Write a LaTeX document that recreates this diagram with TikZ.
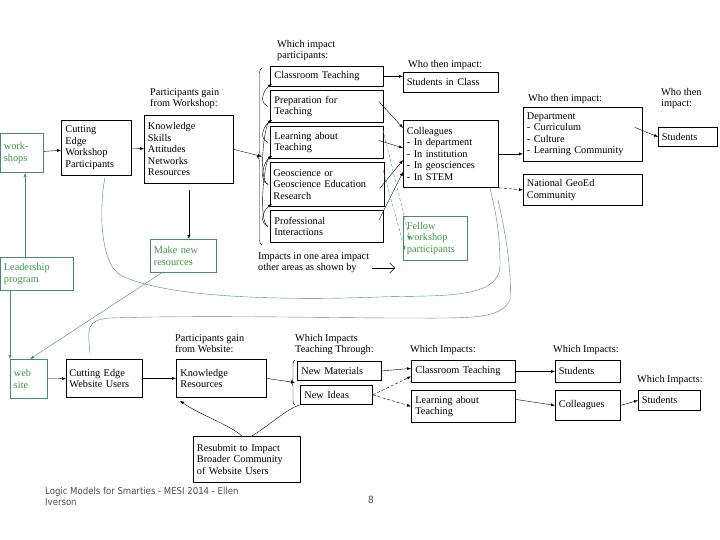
\documentclass[tikz,border=0pt]{standalone}
\usepackage{fontspec}
\setmainfont{Liberation Serif}
\newfontfamily\foot{DejaVu Sans Condensed}
\usetikzlibrary{arrows.meta,decorations.pathreplacing}
\definecolor{gr}{RGB}{60,150,60}
\definecolor{gl}{RGB}{70,140,110}
\begin{document}
\begin{tikzpicture}[x=1pt,y=-1pt,
 bx/.style={draw,thick,anchor=north west,inner sep=3pt,align=left,font=\fontsize{10.3}{11.5}\selectfont},
 gbx/.style={bx,draw=gl,text=gr},
 lb/.style={anchor=north west,inner sep=0pt,align=left,font=\fontsize{10.3}{11.5}\selectfont},
 ar/.style={-{Latex[length=4pt,width=3pt]}},
 ga/.style={gl,-{Latex[length=4pt,width=3pt]}}]
\useasboundingbox (0,0) rectangle (720,540);
% top row
\node[gbx,minimum width=43,minimum height=39,text width=36] (ws) at (0,133) {work-\\shops};
\node[bx,minimum width=70,minimum height=55,text width=62] (cew) at (61,120) {Cutting\\Edge\\Workshop\\Participants};
\node[lb] (l1) at (150,88) {Participants gain\\from Workshop:};
\node[bx,minimum width=89,minimum height=68,text width=82] (kn) at (144,115) {Knowledge\\Skills\\Attitudes\\Networks\\Resources};
\node[lb] (l2) at (277,40) {Which impact\\participants:};
\node[bx,minimum width=113,minimum height=20,text width=105] (ct) at (270,66) {Classroom Teaching};
\node[bx,minimum width=113,minimum height=32,text width=105] (pt) at (270,90) {Preparation for\\Teaching};
\node[bx,minimum width=113,minimum height=32,text width=105] (la) at (270,126) {Learning about\\Teaching};
\node[bx,minimum width=113,minimum height=44,text width=108] (ge) at (270,162) {Geoscience or\\Geoscience Education\\Research};
\node[bx,minimum width=113,minimum height=32,text width=105] (pi) at (270,210) {Professional\\Interactions};
\draw[decorate,decoration={brace,amplitude=5pt,mirror}] (262,68) -- (262,245) coordinate[pos=0.5] (br1);
\node[lb] (l3) at (408,60) {Who then impact:};
\node[bx,minimum width=95,minimum height=20,text width=88] (sic) at (403,72) {Students in Class};
\node[bx,minimum width=95,minimum height=67,text width=88] (col) at (403,120) {Colleagues\\- In department\\- In institution\\- In geosciences\\- In STEM};
\node[lb] (l4) at (528,94) {Who then impact:};
\node[bx,minimum width=119,minimum height=54,text width=112] (dep) at (523,107) {Department\\- Curriculum\\- Culture\\- Learning Community};
\node[bx,minimum width=119,minimum height=31,text width=112] (nat) at (523,174) {National GeoEd\\Community};
\node[lb] (l5) at (661,88) {Who then\\impact:};
\node[bx,minimum width=59,minimum height=19,text width=52] (st1) at (658,127) {Students};
\node[gbx,minimum width=64,minimum height=44,text width=57] (fel) at (403,216) {Fellow\\workshop\\participants};
\node[gbx,minimum width=66,minimum height=33,text width=59] (mnr) at (150,239) {Make new\\resources};
\node[gbx,minimum width=73,minimum height=33,text width=66] (lp) at (0,257) {Leadership\\program};
\node[lb] (l6) at (258,252) {Impacts in one area impact\\other areas as shown by};
\coordinate (ia) at (372,268); \coordinate (ib) at (395,268);
\draw[-{Straight Barb[length=5pt]}] (ia) -- (ib);
% bottom row
\node[gbx,minimum width=37,minimum height=39,text width=30] (web) at (10,359) {web\\site};
\node[bx,minimum width=75,minimum height=38,text width=70] (cwu) at (66,359) {Cutting Edge\\Website Users};
\node[lb] (l7) at (175,334) {Participants gain\\from Website:};
\node[bx,minimum width=90,minimum height=38,text width=82] (kr) at (176,359) {Knowledge\\Resources};
\node[lb] (l8) at (295,334) {Which Impacts\\Teaching Through:};
\node[bx,minimum width=84,minimum height=19,text width=76] (nm) at (297,361) {New Materials};
\node[bx,minimum width=72,minimum height=19,text width=64] (ni) at (300,385) {New Ideas};
\draw[decorate,decoration={brace,amplitude=4pt,mirror}] (295,360) -- (295,405) coordinate[pos=0.5] (br2);
\node[lb] (l9) at (410,345) {Which Impacts:};
\node[bx,minimum width=104,minimum height=22,text width=96] (ct2) at (411,360) {Classroom Teaching};
\node[bx,minimum width=104,minimum height=32,text width=96] (la2) at (411,390) {Learning about\\Teaching};
\node[lb] (l10) at (553,345) {Which Impacts:};
\node[bx,minimum width=65,minimum height=22,text width=58] (st2) at (555,360) {Students};
\node[bx,minimum width=65,minimum height=30,text width=58] (cl2) at (555,390) {Colleagues};
\node[lb] (l11) at (637,375) {Which Impacts:};
\node[bx,minimum width=62,minimum height=20,text width=55] (st3) at (638,390) {Students};
\node[bx,minimum width=107,minimum height=46,text width=100] (rs) at (193,436) {Resubmit to Impact\\Broader Community\\of Website Users};
\node[anchor=north west,inner sep=0pt,align=left,text=black!70,font=\foot\fontsize{9.5}{11.5}\selectfont] (ft) at (45,487) {Logic Models for Smarties - MESI 2014 - Ellen\\Iverson};
\node[anchor=north west,inner sep=0pt,text=black!70,font=\foot\fontsize{10}{12}\selectfont] (pg) at (368,496) {8};
% black arrows top
\draw[ar] (ws) -- (cew);
\draw[ar] (cew) -- (kn);
\draw[ar] (kn.east) -- (br1);
\draw[ar] (kn.south) ++(0,6) -- (mnr.north-|kn.south);
\draw[ar] (ct.east) -- (sic.west|-ct.east);
\draw[ar] (pt.east) ++(-5,-5) -- ([yshift=-8]col.north west);
\draw[ar] (la.east) ++(-5,-2) -- ([yshift=-28]col.north west);
\draw[ar] (ge.east) ++(-5,4) -- ([yshift=-40]col.north west);
\draw[ar] (pi.east) ++(-5,-6) -- ([yshift=-52]col.north west);
\draw[ar] (col.east) -- (dep.west|-col.east);
\draw[ar,densely dashed] (col.south east) -- (nat.west);
\draw[ar] (dep.east) ++(-8,-7) -- (st1.west);
% internal curved arrows
\foreach \a/\b in {pt/ct,la/pt,ge/la,pi/ge,ge/pt,pi/la}{
 \draw[ar] ([xshift=-2]\a.west) .. controls +(-10,-4) and +(-8,6) .. ([xshift=2,yshift=3]\b.south west);}
% green arrows
\draw[ga] (25,257) -- (ws.south-|25,0);
\draw[ga] (10,290) -- (10,359);
\draw[ga] (163,272) -- (30,359);
\draw[gl] (105,178) .. controls (100,200) and (98,260) .. (120,275) .. controls (170,300) and (300,300) .. (380,297) .. controls (440,295) and (500,300) .. (500,265) .. controls (500,230) and (495,210) .. (490,188);
\draw[gl] (90,353) .. controls (88,330) and (85,320) .. (110,318) .. controls (200,315) and (340,318) .. (400,318) .. controls (470,318) and (500,320) .. (510,300) .. controls (512,270) and (505,230) .. (498,200);
\draw[ga,densely dashed] (383,130) -- (410,240);
\draw[ga,densely dashed] (383,170) -- (405,250);
% bottom arrows
\draw[ar] (web) -- (cwu);
\draw[ar] (cwu) -- (kr);
\draw[ar] (kr.east) -- (br2);
\draw[ar] (nm.east) -- ([yshift=3]ct2.west);
\draw[ar,densely dashed] (ni.east) -- ([yshift=-5]ct2.west);
\draw[ar,densely dashed] (ni.east) -- (la2.west);
\draw[ar] (ct2.east) -- (st2.west);
\draw[ar] (la2.east) ++(0,-7) -- (cl2.west);
\draw[ar] (cl2.east) -- (st3.west);
\draw[ar] ([xshift=-5]rs.north) .. controls (230,425) and (200,415) .. ([xshift=4,yshift=-3]kr.south west);
\draw ([xshift=5]rs.north) .. controls (270,425) and (285,410) .. (ni.south west);
\end{tikzpicture}
\end{document}
